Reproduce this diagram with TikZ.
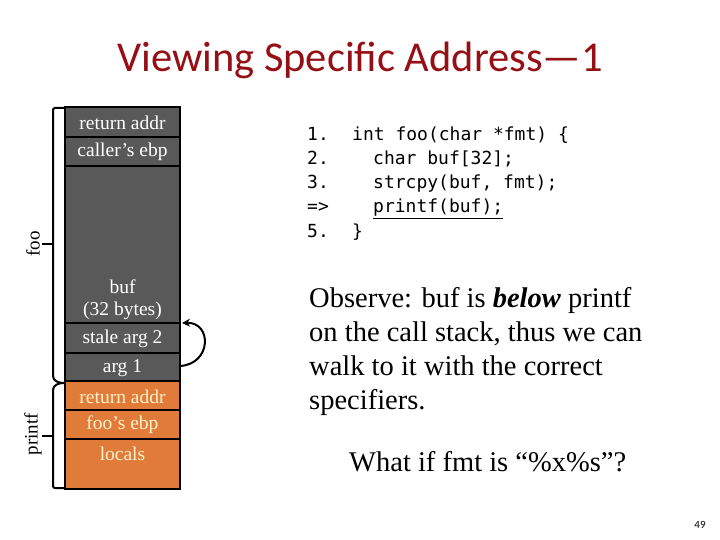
\documentclass[tikz,border=0pt]{standalone}
\usepackage{fontspec}
\setmainfont{Liberation Serif}
\newfontfamily\titlefont{Carlito}
\newfontfamily\codefont{DejaVu Sans Mono}
\usetikzlibrary{arrows.meta}
\definecolor{titlered}{RGB}{150,15,20}
\definecolor{darkcell}{RGB}{89,89,89}
\definecolor{orangecell}{RGB}{224,123,57}
\definecolor{creamtext}{RGB}{255,242,204}
\begin{document}
\begin{tikzpicture}[x=1pt,y=-1pt,
  cellbox/.style={draw=black, line width=1.6pt},
  darkfill/.style={cellbox, fill=darkcell},
  orangefill/.style={cellbox, fill=orangecell},
  celltext/.style={font=\fontsize{19.5}{22}\selectfont, text=white, inner sep=0pt, align=center},
  celltextor/.style={celltext, text=creamtext},
  bracketline/.style={draw=black, line width=2pt, rounded corners=2pt},
  codetext/.style={font=\codefont\fontsize{18}{20}\selectfont, anchor=base west, inner sep=0pt},
  bodytext/.style={font=\fontsize{28.5}{34}\selectfont, anchor=base west, inner sep=0pt},
]
\useasboundingbox (0,0) rectangle (720,540);
\fill[white] (0,0) rectangle (720,540);

% title
\node[font=\titlefont\fontsize{42.5}{46}\selectfont, text=titlered, anchor=base] (title) at (360,72) {Viewing Specific Address—1};

% stack cells
\draw[darkfill] (65,107) rectangle (180,137);
\draw[darkfill] (65,137) rectangle (180,166);
\draw[darkfill] (65,166) rectangle (180,323);
\draw[darkfill] (65,323) rectangle (180,353);
\draw[darkfill] (65,353) rectangle (180,381);
\draw[orangefill] (65,381) rectangle (180,410);
\draw[orangefill] (65,410) rectangle (180,439);
\draw[orangefill] (65,439) rectangle (180,489);

\node[celltext] (retaddr1) at (122.5,123) {return addr};
\node[celltext] (callerebp) at (122.5,152) {caller’s ebp};
\node[celltext] (buf) at (122.5,300) {buf\\(32 bytes)};
\node[celltext] (stale) at (122.5,339) {stale arg 2};
\node[celltext] (arg1) at (122.5,368) {arg 1};
\node[celltextor] (retaddr2) at (122.5,397) {return addr};
\node[celltextor] (fooebp) at (122.5,425) {foo’s ebp};
\node[celltextor] (locals) at (122.5,454) {locals};

% curved arrow from arg 1 to stale arg 2
\coordinate (arrA) at (180,366);
\coordinate (arrB) at (182,323);
\draw[line width=2pt, -{Stealth[length=8pt,width=8pt]}] (arrA) .. controls (212,364) and (212,322) .. (arrB);

% brackets
\coordinate (fooTop) at (65,108);
\coordinate (join) at (64,383);
\coordinate (printfBot) at (65,488);
\draw[bracketline] (fooTop) -- (53,108) -- (53,376);
\draw[line width=2pt] (53,376) to[out=-90,in=180] (join);
\draw[line width=2pt] (join) to[out=180,in=90] (53,390);
\draw[bracketline] (53,390) -- (53,488) -- (printfBot);
\draw[line width=2pt] (42,244) -- (53,244);
\draw[line width=2pt] (42,436) -- (53,436);
\node[rotate=90, font=\fontsize{19}{21}\selectfont, inner sep=0pt] (foolabel) at (33,244) {foo};
\node[rotate=90, font=\fontsize{19}{21}\selectfont, inner sep=0pt] (printflabel) at (33,434) {printf};

% code
\node[codetext] (n1) at (307,141) {1.};
\node[codetext] (n2) at (307,165) {2.};
\node[codetext] (n3) at (307,189) {3.};
\node[codetext] (n4) at (307,213) {=>};
\node[codetext] (n5) at (307,237) {5.};
\node[codetext] (c1) at (352,141) {int foo(char *fmt) \{};
\node[codetext] (c2) at (373,165) {char buf[32];};
\node[codetext] (c3) at (373,189) {strcpy(buf, fmt);};
\node[codetext] (c4) at (373,213) {\underline{printf(buf);}};
\node[codetext] (c5) at (352,237) {\}};

% body text
\node[bodytext] (obs1) at (309,307) {Observe: buf is \textbf{\textit{below}} printf};
\node[bodytext] (obs2) at (309,341) {on the call stack, thus we can};
\node[bodytext] (obs3) at (309,375) {walk to it with the correct};
\node[bodytext] (obs4) at (309,409) {specifiers.};
\node[bodytext] (whatif) at (349,471) {What if fmt is “\%x\%s”?};

% page number
\node[font=\titlefont\fontsize{11}{12}\selectfont] (pagenum) at (700,525) {49};
\end{tikzpicture}
\end{document}
